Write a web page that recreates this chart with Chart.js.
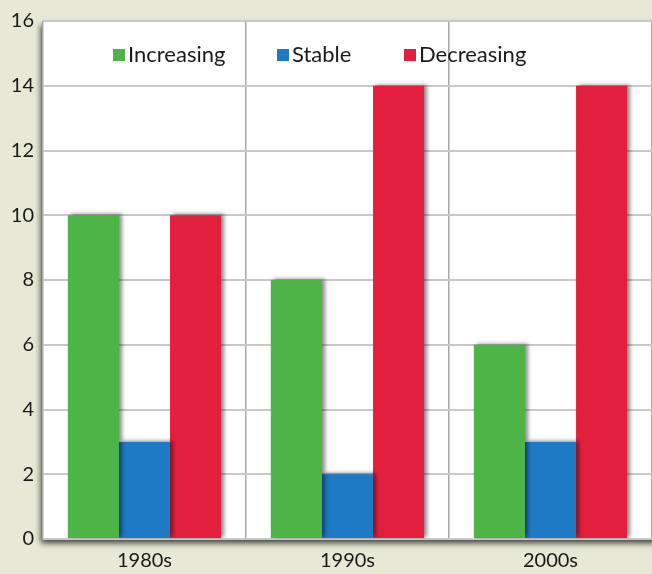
<!DOCTYPE html>
<html>
<head>
<meta charset="utf-8">
<script src="https://cdn.jsdelivr.net/npm/chart.js@4.4.0/dist/chart.umd.min.js"></script>
<style>
  html, body { margin: 0; padding: 0; background: #e7e9d6; }
  #wrap { width: 652px; height: 574px; }
</style>
</head>
<body>
<div id="wrap"><canvas id="chart" width="652" height="574"></canvas></div>
<script>
// Data
const decades = ['1980s', '1990s', '2000s'];
const increasing = [10, 8, 6];
const stable = [3, 2, 3];
const decreasing = [10, 14, 14];
const seriesNames = ['Increasing', 'Stable', 'Decreasing'];
const seriesColors = ['#4db546', '#1f7ac6', '#e2203e'];

const FONT = 'Lato, "Open Sans", sans-serif';

// Background + white plot box with soft shadow
const plotBox = {
    id: 'plotBox',
    beforeDraw(chart) {
        const { ctx, chartArea: a } = chart;
        ctx.save();
        ctx.fillStyle = '#e7e9d6';
        ctx.fillRect(0, 0, chart.width, chart.height);
        ctx.shadowColor = 'rgba(0,0,0,0.75)';
        ctx.shadowBlur = 6;
        ctx.shadowOffsetX = -2;
        ctx.shadowOffsetY = 4;
        ctx.fillStyle = '#ffffff';
        ctx.fillRect(a.left, a.top, a.right - a.left + 10, a.bottom - a.top);
        ctx.restore();
    }
};

// Drop shadow on bars
const barShadow = {
    id: 'barShadow',
    beforeDatasetsDraw(chart) {
        const ctx = chart.ctx;
        ctx.save();
        ctx.shadowColor = 'rgba(0,0,0,0.45)';
        ctx.shadowBlur = 4;
        ctx.shadowOffsetX = 3;
        ctx.shadowOffsetY = -1;
    },
    afterDatasetsDraw(chart) {
        chart.ctx.restore();
    }
};

// Legend drawn inside the plot, near the top
const innerLegend = {
    id: 'innerLegend',
    afterDraw(chart) {
        const { ctx, chartArea: a } = chart;
        const xs = [113, 277, 404];
        const y = a.top + 34;
        ctx.save();
        ctx.font = '22px ' + FONT;
        ctx.textBaseline = 'middle';
        chart.data.datasets.forEach((ds, i) => {
            ctx.fillStyle = ds.backgroundColor;
            ctx.fillRect(xs[i], y - 6, 12, 12);
            ctx.fillStyle = '#1a1a1a';
            ctx.fillText(ds.label, xs[i] + 15, y);
        });
        ctx.restore();
    }
};

new Chart(document.getElementById('chart'), {
    type: 'bar',
    data: {
        labels: decades,
        datasets: [increasing, stable, decreasing].map((vals, i) => ({
            label: seriesNames[i],
            data: vals,
            backgroundColor: seriesColors[i],
            borderWidth: 0,
            barPercentage: 1,
            categoryPercentage: 0.755
        }))
    },
    options: {
        responsive: false,
        animation: false,
        layout: { padding: { top: 19, right: 0, left: 0, bottom: 0 } },
        plugins: {
            legend: { display: false },
            tooltip: { enabled: false }
        },
        scales: {
            x: {
                afterFit(scale) { scale.height = 35; },
                grid: { offset: true, color: '#a8a8a8', lineWidth: 1.5, drawTicks: false },
                border: { display: false },
                ticks: { color: '#1a1a1a', padding: 10, font: { family: FONT, size: 20 } }
            },
            y: {
                min: 0,
                max: 16,
                afterFit(scale) { scale.width = 43; },
                grid: { color: '#c8c8c8', lineWidth: 2, drawTicks: false },
                border: { display: false },
                ticks: { stepSize: 2, color: '#1a1a1a', padding: 9, font: { family: FONT, size: 20 } }
            }
        }
    },
    plugins: [plotBox, barShadow, innerLegend]
});
</script>
</body>
</html>
